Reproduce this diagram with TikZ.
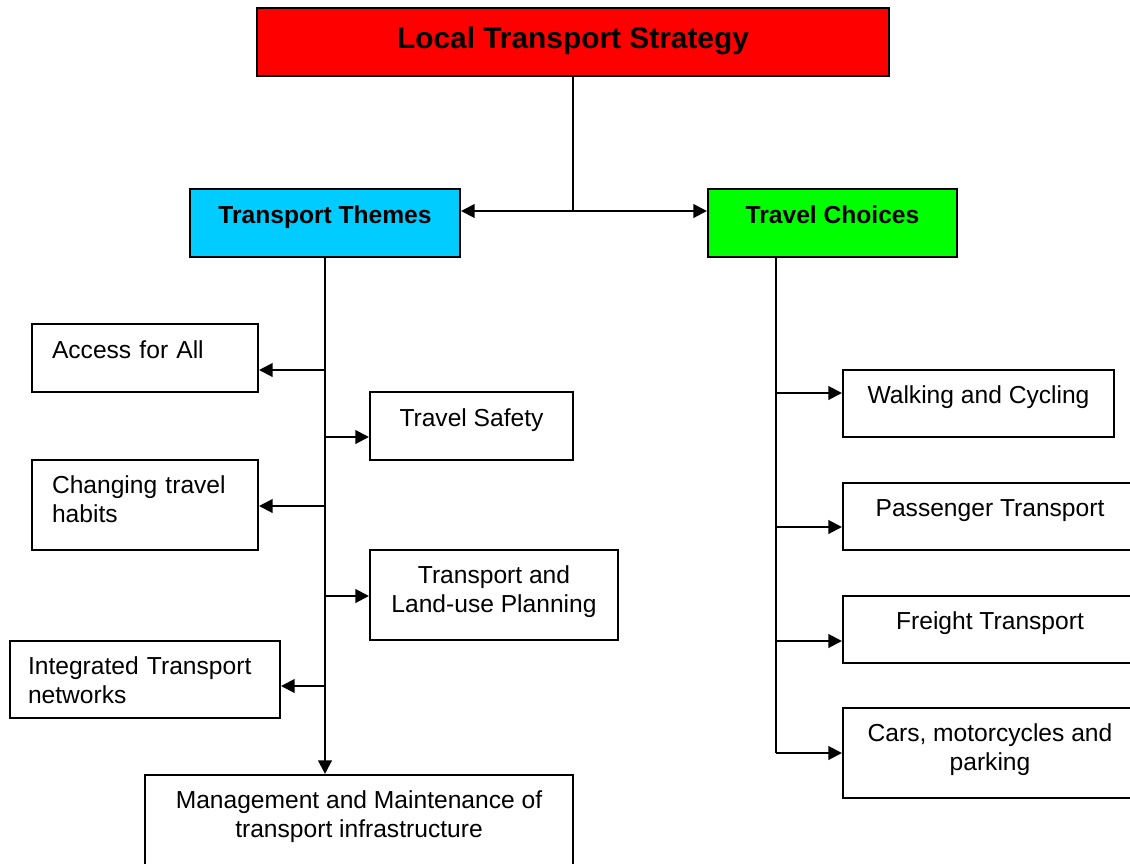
\documentclass[tikz,border=0pt]{standalone}
\usepackage{fontspec}
\setmainfont{Liberation Sans}
\usepackage{tikz}
\usetikzlibrary{arrows.meta}
\usepackage{xcolor}
\definecolor{ltsred}{RGB}{255,0,0}
\definecolor{themecyan}{RGB}{0,204,255}
\definecolor{choicegreen}{RGB}{0,255,0}

\begin{document}
\begin{tikzpicture}[x=0.02cm, y=-0.02cm, line width=1.2pt,
    >={Triangle[length=0.27cm,width=0.27cm]},
    box/.style={draw, rectangle, inner sep=0pt, text depth=0.34cm,
        font=\fontsize{14}{16.5}\selectfont, align=center},
    twoline/.style={text depth=0.24cm},
    leftbox/.style={box, align=left, inner xsep=0.4cm, text width=3.72cm},
    lefttwo/.style={text depth=0.82cm},
    head/.style={box, font=\bfseries\fontsize{14}{16.5}\selectfont}]
    \useasboundingbox (0,0) rectangle (1130,863);
    \clip (0,0) rectangle (1130,863);

    \node[box, fill=ltsred, minimum width=12.64cm, minimum height=1.36cm,
        font=\bfseries\fontsize{17}{20}\selectfont, text depth=0.16cm] (lts) at (573,42) {Local Transport Strategy};
    \node[head, fill=themecyan, minimum width=5.4cm, minimum height=1.36cm] (themes) at (325,223) {Transport Themes};
    \node[head, fill=choicegreen, minimum width=4.98cm, minimum height=1.36cm] (choices) at (832.5,223) {Travel Choices};

    \node[leftbox, minimum height=1.36cm] (access) at (145,358) {Access for All};
    \node[box, minimum width=4.06cm, minimum height=1.36cm] (safety) at (471.5,426) {Travel Safety};
    \node[leftbox, lefttwo, minimum height=1.8cm] (habits) at (145,505) {Changing travel\\habits};
    \node[box, twoline, minimum width=4.96cm, minimum height=1.8cm] (landuse) at (494,595) {Transport and\\Land-use Planning};
    \node[leftbox, lefttwo, text depth=0.56cm, inner xsep=0.36cm, text width=4.68cm, minimum height=1.54cm] (network) at (145,679.5) {Integrated Transport\\networks};
    \node[box, twoline, minimum width=8.56cm, minimum height=1.8cm] (manage) at (359,820) {Management and Maintenance of\\transport infrastructure};

    \node[box, minimum width=5.42cm, minimum height=1.34cm] (walk) at (978.5,403.5) {Walking and Cycling};
    \node[box, minimum width=5.88cm, minimum height=1.34cm] (pass) at (990,516.5) {Passenger Transport};
    \node[box, minimum width=5.88cm, minimum height=1.34cm] (freight) at (990,629.5) {Freight Transport};
    \node[box, twoline, minimum width=5.88cm, minimum height=1.8cm] (cars) at (990,753) {Cars, motorcycles and\\parking};

    \coordinate (split) at (573,211);
    \draw (lts) -- (split);
    \draw[->] (split) -- (split -| themes.east);
    \draw[->] (split) -- (split -| choices.west);

    \draw[->] (themes.south) -- (themes.south |- manage.north);
    \foreach \y/\n in {370/access, 506/habits, 686/network} {
        \coordinate (b\n) at (325,\y);
        \draw[->] (b\n) -- (b\n -| \n.east);
    }
    \foreach \y/\n in {437/safety, 596/landuse} {
        \coordinate (b\n) at (325,\y);
        \draw[->] (b\n) -- (b\n -| \n.west);
    }

    \coordinate (ctop) at (776,257);
    \coordinate (cbot) at (776,753);
    \draw (ctop) -- (cbot);
    \foreach \y/\n in {393/walk, 527/pass, 641/freight, 753/cars} {
        \coordinate (c\n) at (776,\y);
        \draw[->] (c\n) -- (c\n -| \n.west);
    }
\end{tikzpicture}
\end{document}
